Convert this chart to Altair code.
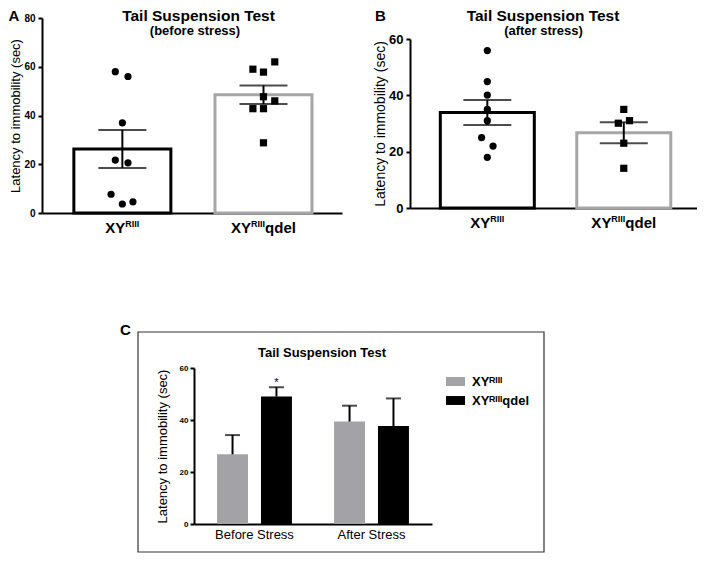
import altair as alt
import pandas as pd

FONT = "Liberation Sans, Arial, Helvetica, sans-serif"

GENO = ["XYᴿᴵᴵᴵ", "XYᴿᴵᴵᴵqdel"]
# axis label pieces (main text, superscript, tail) for panels A and B
LAB_MAIN = ["XY", "XY"]
LAB_SUP = ["RIII", "RIII"]
LAB_TAIL = ["", "qdel"]
YTITLE = "Latency to immobility (sec)"
TITLE = "Tail Suspension Test"
SUB_A = "(before stress)"
SUB_B = "(after stress)"
LETTERS = ["A", "B", "C"]

# Panel A: before stress (individual animals, jitter in group units)
A_XY_VALS = [58, 56, 37, 21.7, 20.6, 7.7, 3.7, 4.6]
A_XY_JIT = [-0.05, 0.04, 0.0, -0.05, 0.04, -0.08, 0.0, 0.075]
A_QD_VALS = [62, 59, 57.8, 47.7, 46, 42.8, 42.8, 28.8]
A_QD_JIT = [0.08, -0.075, 0.0, 0.0, 0.08, -0.075, 0.0, 0.0]
A_MEAN = [26.3, 48.5]
A_SEM = [7.8, 3.8]
A_YTICKS = [0, 20, 40, 60, 80]

# Panel B: after stress
B_XY_VALS = [55.9, 44.9, 40.1, 35, 31, 25, 22, 18]
B_XY_JIT = [0, 0, 0, 0, 0, -0.042, 0.042, 0]
B_QD_VALS = [35, 31, 30.1, 23, 14.1]
B_QD_JIT = [0, 0.042, -0.04, 0, 0]
B_MEAN = [33.9, 26.7]
B_SEM = [4.4, 3.7]
B_YTICKS = [0, 20, 40, 60]

# Panel C: summary
C_STAGE = ["Before Stress", "After Stress"]
C_MEAN_XY = [26.8, 39.4]
C_HI_XY = [34.2, 45.5]
C_MEAN_QD = [49.0, 37.7]
C_HI_QD = [52.6, 48.3]
C_SIG_XY = ["", ""]
C_SIG_QD = ["*", ""]
C_YTICKS = [0, 20, 40, 60]


def scatter_panel(xy_vals, xy_jit, qd_vals, qd_jit, means, sems, yticks,
                  xdom, xrng, ydom, yrng, xoff, yoff, tick_fs, title_fs, title_x, bar_w,
                  lab_y):
    pts = pd.DataFrame({
        "g": [GENO[0]] * len(xy_vals) + [GENO[1]] * len(qd_vals),
        "pos": [0 + j for j in xy_jit] + [1 + j for j in qd_jit],
        "v": xy_vals + qd_vals,
    })
    summ = pd.DataFrame({
        "g": GENO, "pos": [0, 1], "mean": means,
        "lo": [m - s for m, s in zip(means, sems)],
        "hi": [m + s for m, s in zip(means, sems)],
        "main": LAB_MAIN, "sup": LAB_SUP, "tail": LAB_TAIL,
    })
    xscale = alt.Scale(domain=xdom, range=xrng, nice=False, zero=False)
    xaxis = alt.Axis(orient="bottom", offset=xoff, values=[0, 1], labels=False,
                     ticks=False, grid=False, domainWidth=2, title=None)
    yscale = alt.Scale(domain=ydom, range=yrng, nice=False)
    yaxis = alt.Axis(orient="left", offset=yoff, values=yticks, grid=False, domainWidth=2,
                     tickWidth=2, tickSize=4, labelFontSize=tick_fs, labelFontWeight="bold",
                     labelPadding=3, title=YTITLE, titleFontSize=title_fs,
                     titleFontWeight="normal", titleX=title_x, titleBaseline="alphabetic")

    def X(f):
        return alt.X(f, type="quantitative", scale=xscale, axis=xaxis)

    def Y(f):
        return alt.Y(f, type="quantitative", scale=yscale, axis=yaxis)

    bars = alt.Chart(summ).mark_bar(size=bar_w, fill="white", strokeWidth=3).encode(
        x=X("pos"), y=Y("mean"),
        stroke=alt.Stroke("g:N", scale=alt.Scale(domain=GENO, range=["black", "#a6a6a6"]),
                          legend=None))
    rule = alt.Chart(summ).mark_rule(color="black", strokeWidth=2).encode(
        x=X("pos"), y=Y("lo"), y2="hi")
    caps = alt.Chart(summ).transform_fold(["lo", "hi"], as_=["k", "val"]).mark_tick(
        orient="horizontal", size=48, thickness=2, color="black").encode(
        x=X("pos"), y=Y("val"))
    dots = alt.Chart(pts).mark_point(filled=True, opacity=1, size=52, color="black").encode(
        x=X("pos"), y=Y("v"),
        shape=alt.Shape("g:N", scale=alt.Scale(domain=GENO, range=["circle", "square"]),
                        legend=None))

    # category labels with real superscripts: main 15px, superscript 9px, tail 15px
    def lab(row, field, dx, size, raise_px=0):
        return alt.Chart(summ.iloc[[row]]).mark_text(
            font=FONT, fontSize=size, fontWeight="bold", align="left",
            baseline="alphabetic", dx=dx, color="black").encode(
            x=X("pos"), y=alt.value(lab_y - raise_px), text=f"{field}:N")

    labels = [
        lab(0, "main", -17, 15), lab(0, "sup", 3, 9, 6),
        lab(1, "main", -32.4, 15), lab(1, "sup", -12.4, 9, 6), lab(1, "tail", 1.6, 15),
    ]
    return alt.layer(bars, rule, caps, dots, *labels)


panelA = scatter_panel(A_XY_VALS, A_XY_JIT, A_QD_VALS, A_QD_JIT, A_MEAN, A_SEM, A_YTICKS,
                       [-0.534, 1.521], [34, 334], [0, 80], [205, 10],
                       -340, -34, 10, 13, -23, 97, 225)
panelB = scatter_panel(B_XY_VALS, B_XY_JIT, B_QD_VALS, B_QD_JIT, B_MEAN, B_SEM, B_YTICKS,
                       [-0.53, 1.5], [402, 689], [0, 60], [200, 31],
                       -345, -402, 13, 14, -26, 94, 219.5)

# Panel C
dfC = pd.DataFrame({
    "stage": C_STAGE * 2,
    "g": [GENO[0]] * 2 + [GENO[1]] * 2,
    "mean": C_MEAN_XY + C_MEAN_QD,
    "hi": C_HI_XY + C_HI_QD,
    "sig": C_SIG_XY + C_SIG_QD,
})
xC_scale = alt.Scale(domain=C_STAGE, range=[186, 424], paddingInner=0.36, paddingOuter=0.197)
xC_axis = alt.Axis(orient="bottom", offset=-29, labelAngle=0, ticks=False, grid=False,
                   domainWidth=2, labelFontSize=13, labelFontWeight="normal", labelPadding=4,
                   title=None, labelOverlap=False)
yC_scale = alt.Scale(domain=[0, 60], range=[516, 360], nice=False)
yC_axis = alt.Axis(orient="left", offset=-186, values=C_YTICKS, grid=False, domainWidth=2,
                   tickWidth=2, tickSize=4, labelFontSize=8, labelFontWeight="bold",
                   labelPadding=2, title=YTITLE, titleFontSize=13, titleFontWeight="normal",
                   titleX=-27.5, titleBaseline="alphabetic")


def XC():
    return alt.X("stage:N", sort=C_STAGE, scale=xC_scale, axis=xC_axis)


def XOC():
    return alt.XOffset("g:N", sort=GENO,
                       scale=alt.Scale(domain=GENO, paddingInner=0.295, paddingOuter=0))


def YC(f):
    return alt.Y(f, type="quantitative", scale=yC_scale, axis=yC_axis)


barsC = alt.Chart(dfC).mark_bar().encode(
    x=XC(), xOffset=XOC(), y=YC("mean"),
    color=alt.Color("g:N", scale=alt.Scale(domain=GENO, range=["#a3a3a7", "#000000"]),
                    legend=alt.Legend(orient="none", legendX=438, legendY=364, title=None,
                                      symbolType="M-1,-0.47H1V0.47H-1Z", symbolSize=361,
                                      symbolStrokeWidth=0, labelFont=FONT, labelFontSize=13,
                                      labelFontWeight="bold", labelColor="black",
                                      labelOffset=7, rowPadding=2, padding=0,
                                      labelLimit=300)))
ruleC = alt.Chart(dfC).mark_rule(color="black", strokeWidth=2).encode(
    x=XC(), xOffset=XOC(), y=YC("mean"), y2="hi")
capC = alt.Chart(dfC).mark_tick(orient="horizontal", size=15, thickness=2, color="black").encode(
    x=XC(), xOffset=XOC(), y=YC("hi"))
sigC = alt.Chart(dfC).mark_text(font=FONT, fontSize=11, baseline="alphabetic", dy=-1,
                                color="black").encode(
    x=XC(), xOffset=XOC(), y=YC("hi"), text="sig:N")
panelC = alt.layer(barsC, ruleC, capC, sigC)

frame = alt.Chart(pd.DataFrame({"a": [0]})).mark_rect(
    fillOpacity=0, stroke="#333333", strokeWidth=1.2).encode(
    x=alt.value(130), x2=alt.value(536), y=alt.value(324), y2=alt.value(544))


def txt(t, x, y, size, align="center"):
    return alt.Chart(pd.DataFrame({"t": [t]})).mark_text(
        font=FONT, fontSize=size, fontWeight="bold", align=align, baseline="alphabetic",
        color="black").encode(text="t:N", x=alt.value(x), y=alt.value(y))


texts = [
    txt(LETTERS[0], 0.5, 13, 15, "left"),
    txt(TITLE, 190.5, 13, 15.5),
    txt(SUB_A, 187, 26.5, 13),
    txt(LETTERS[1], 367, 13, 15, "left"),
    txt(TITLE, 535, 13, 15.5),
    txt(SUB_B, 535.5, 26.5, 13),
    txt(LETTERS[2], 112, 327, 15, "left"),
    txt(TITLE, 314, 348.5, 13),
]

chart = alt.layer(frame, panelA, panelB, panelC, *texts).resolve_scale(
    x="independent", y="independent", stroke="independent", shape="independent",
    color="independent", xOffset="independent"
).properties(
    width=689, height=545, padding=0, autosize=alt.AutoSizeParams(type="none")
).configure_view(stroke=None).configure_axis(
    labelFont=FONT, titleFont=FONT, labelColor="black", titleColor="black",
    domainColor="black", tickColor="black"
)

chart.save("out.html", embed_options={"renderer": "svg", "actions": False})
